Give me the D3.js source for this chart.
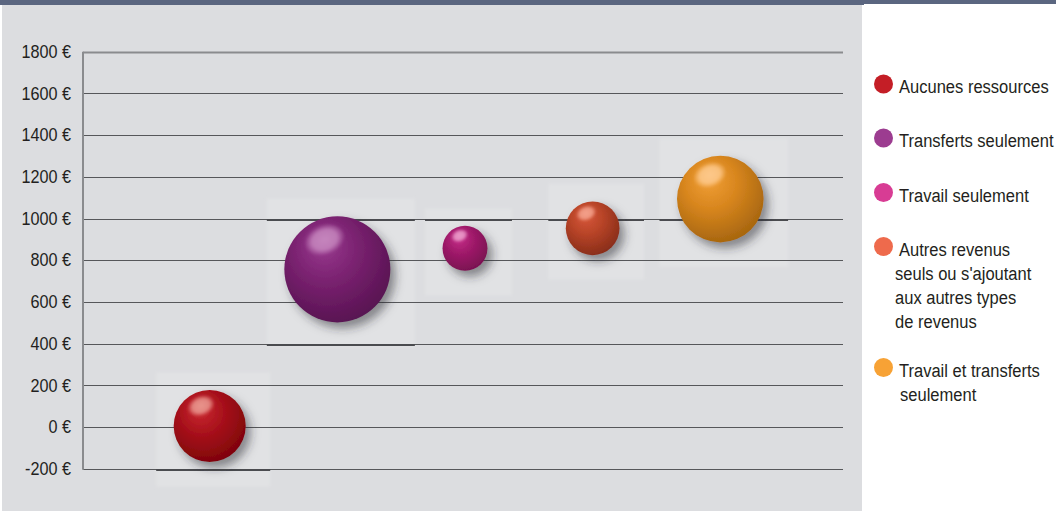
<!DOCTYPE html>
<html>
<head>
<meta charset="utf-8">
<script src="https://cdn.jsdelivr.net/npm/d3@7"></script>
<style>
  html, body { margin: 0; padding: 0; background: #ffffff; }
  svg { display: block; }
  text { font-family: "Liberation Sans", Arial, sans-serif; fill: #231f20; }
</style>
</head>
<body>
<svg id="chart" width="1056" height="511"></svg>
<script>
// Monthly income by household resource type (bubble size = share of households)
const categories = [
  "Aucunes ressources",
  "Transferts seulement",
  "Travail seulement",
  "Autres revenus seuls ou s'ajoutant aux autres types de revenus",
  "Travail et transferts seulement"
];
const incomes = [5, 756, 857, 953, 1093];
const shares = [18, 39, 7, 10, 26];
const referenceLevels = [[-200], [1000, 400], [1000], [1000], [1000]];
const yTicks = [-200, 0, 200, 400, 600, 800, 1000, 1200, 1400, 1600, 1800];
const legendLines = [
  ["Aucunes ressources"],
  ["Transferts seulement"],
  ["Travail seulement"],
  ["Autres revenus", "seuls ou s'ajoutant", "aux autres types", "de revenus"],
  ["Travail et transferts", "seulement"]
];

// colour palette: [light, base, dark, highlight, legend]
const palette = [
  ["#cc2a32", "#a8111b", "#7c0309", "#e8948c", "#c41e26"],
  ["#9a3a90", "#7a2270", "#561250", "#c585bd", "#9c3c90"],
  ["#c72e8a", "#a01a6a", "#781050", "#ea98c8", "#d83c94"],
  ["#d8583a", "#b84428", "#862c18", "#f3a08a", "#ee6a4c"],
  ["#f2a038", "#d8861e", "#a4640e", "#fdc88a", "#f7a235"]
];

// condensed rendering of the sans face
const tickScaleX = 0.9;
const legendScaleX = 0.87;

const svg = d3.select("#chart");
const defs = svg.append("defs");

// background panel and header band
svg.append("rect").attr("x", 0).attr("y", 0).attr("width", 1056).attr("height", 4).attr("fill", "#5b6680");
svg.append("rect").attr("x", 0).attr("y", 0).attr("width", 864).attr("height", 5).attr("fill", "#5b6680");
svg.append("rect").attr("x", 2).attr("y", 5).attr("width", 860).attr("height", 506).attr("fill", "#dcdde0");

const plot = { left: 83, right: 843 };
const y = d3.scaleLinear().domain([-200, 1800]).range([468.7, 51.7]);
const x = d3.scalePoint().domain(categories).range([209.7, 720.3]);
const r = d3.scaleSqrt().domain([0, 100]).range([0, 84.9]);

// filters
const soft = defs.append("filter").attr("id", "soft").attr("x", "-10%").attr("y", "-10%").attr("width", "120%").attr("height", "120%");
soft.append("feGaussianBlur").attr("stdDeviation", 1.5);

const shadow = defs.append("filter").attr("id", "ballShadow").attr("x", "-40%").attr("y", "-40%").attr("width", "190%").attr("height", "190%");
shadow.append("feDropShadow").attr("dx", 5).attr("dy", 6).attr("stdDeviation", 5)
  .attr("flood-color", "#2a2a30").attr("flood-opacity", 0.5);

const hlBlur = defs.append("filter").attr("id", "hlBlur").attr("x", "-30%").attr("y", "-30%").attr("width", "160%").attr("height", "160%");
hlBlur.append("feGaussianBlur").attr("stdDeviation", 1.2);

palette.forEach((p, i) => {
  const g = defs.append("radialGradient").attr("id", "ball" + i)
    .attr("cx", 0.42).attr("cy", 0.36).attr("r", 0.68).attr("fx", 0.36).attr("fy", 0.26);
  g.append("stop").attr("offset", "0%").attr("stop-color", p[0]);
  g.append("stop").attr("offset", "45%").attr("stop-color", p[1]);
  g.append("stop").attr("offset", "100%").attr("stop-color", p[2]);

  const h = defs.append("radialGradient").attr("id", "hl" + i).attr("cx", 0.5).attr("cy", 0.5).attr("r", 0.5);
  h.append("stop").attr("offset", "0%").attr("stop-color", p[3]).attr("stop-opacity", 1);
  h.append("stop").attr("offset", "60%").attr("stop-color", p[3]).attr("stop-opacity", 0.85);
  h.append("stop").attr("offset", "100%").attr("stop-color", p[3]).attr("stop-opacity", 0);
});

const data = categories.map((c, i) => ({
  cat: c, value: incomes[i], share: shares[i], levels: referenceLevels[i], i
}));
const tileHalf = d => r(d.share) + 21;

// lighter tiles behind each bubble
svg.append("g").selectAll("rect").data(data).join("rect")
  .attr("x", d => x(d.cat) + 3.5 - tileHalf(d))
  .attr("y", d => y(d.value) + 3.5 - tileHalf(d))
  .attr("width", d => 2 * tileHalf(d))
  .attr("height", d => 2 * tileHalf(d))
  .attr("fill", "#e1e2e4")
  .attr("filter", "url(#soft)");

// y axis + gridlines
const axis = svg.append("g").attr("transform", `translate(${plot.left},0)`)
  .call(d3.axisLeft(y).tickValues(yTicks).tickSize(0).tickPadding(12).tickFormat(d => d + " €"));
axis.select(".domain").remove();
axis.selectAll("text")
  .attr("font-size", 18)
  .attr("fill", "#231f20")
  .attr("font-family", "'Liberation Sans', Arial, sans-serif")
  .attr("x", -12 / tickScaleX)
  .attr("transform", `scale(${tickScaleX},1)`);

svg.append("g").selectAll("line").data(yTicks).join("line")
  .attr("x1", plot.left).attr("x2", plot.right)
  .attr("y1", d => Math.round(y(d)) + 0.5).attr("y2", d => Math.round(y(d)) + 0.5)
  .attr("stroke", d => d === 1800 ? "#8a8b8e" : "#56575a")
  .attr("stroke-width", d => d === 1800 ? 2 : 1);

svg.append("line")
  .attr("x1", plot.left).attr("x2", plot.left)
  .attr("y1", y(1800)).attr("y2", y(-200) + 1)
  .attr("stroke", "#8a8b8e").attr("stroke-width", 2);

// reference level marks within each tile
svg.append("g").selectAll("g").data(data).join("g")
  .each(function(d) {
    const half = tileHalf(d);
    d3.select(this).selectAll("line").data(d.levels).join("line")
      .attr("x1", x(d.cat) + 3.5 - half).attr("x2", x(d.cat) + 3.5 + half)
      .attr("y1", v => Math.round(y(v)) + 1).attr("y2", v => Math.round(y(v)) + 1)
      .attr("stroke", "#4a4b4f").attr("stroke-width", 2);
  });

// bubbles
const balls = svg.append("g").selectAll("g").data(data).join("g")
  .attr("transform", d => `translate(${x(d.cat)},${y(d.value)})`);

balls.append("circle")
  .attr("r", d => r(d.share))
  .attr("fill", d => `url(#ball${d.i})`)
  .attr("filter", "url(#ballShadow)");

balls.append("ellipse")
  .attr("cx", d => -0.24 * r(d.share))
  .attr("cy", d => -0.56 * r(d.share))
  .attr("rx", d => 0.4 * r(d.share))
  .attr("ry", d => 0.29 * r(d.share))
  .attr("transform", d => `rotate(-22 ${-0.24 * r(d.share)} ${-0.56 * r(d.share)})`)
  .attr("fill", d => `url(#hl${d.i})`)
  .attr("filter", "url(#hlBlur)");

// legend
const legendTop = [84, 138, 192.5, 246.5, 367.5];
const lineStep = 24;
const indent = [0, 0, 0, -4, 1];
const legend = svg.append("g");
legendLines.forEach((lines, i) => {
  legend.append("circle").attr("cx", 883.5).attr("cy", legendTop[i]).attr("r", 9.5).attr("fill", palette[i][4]);
  lines.forEach((t, j) => {
    const tx = 899 + (j > 0 ? indent[i] : 0);
    const ty = legendTop[i] + 9 + j * lineStep;
    legend.append("text")
      .attr("transform", `translate(${tx},${ty}) scale(${legendScaleX},1)`)
      .attr("font-size", 19)
      .text(t);
  });
});
</script>
</body>
</html>
